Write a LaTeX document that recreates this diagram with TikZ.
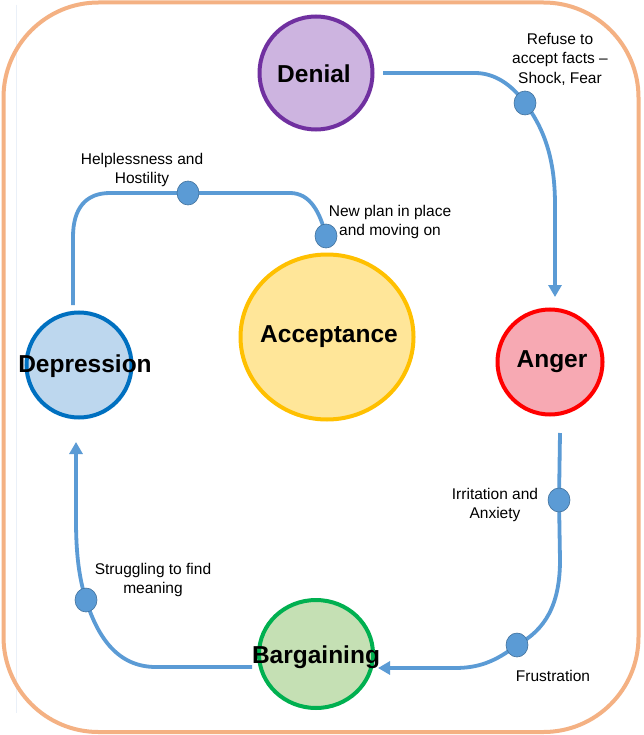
\documentclass[tikz,border=0pt]{standalone}
\usepackage{fontspec}
\setmainfont{Liberation Sans}
\usetikzlibrary{shapes.geometric,arrows.meta}
\definecolor{frameorange}{HTML}{F4B183}
\definecolor{linkblue}{HTML}{5B9BD5}
\definecolor{dotedge}{HTML}{41719C}
\definecolor{denialfill}{HTML}{CDB4E0}
\definecolor{denialedge}{HTML}{7030A0}
\definecolor{acceptfill}{HTML}{FFE699}
\definecolor{acceptedge}{HTML}{FFC000}
\definecolor{angerfill}{HTML}{F7A9B3}
\definecolor{angeredge}{HTML}{FF0000}
\definecolor{deprfill}{HTML}{BDD7EE}
\definecolor{dempredge}{HTML}{0070C0}
\definecolor{bargfill}{HTML}{C5E0B4}
\definecolor{bargedge}{HTML}{00B050}
\definecolor{faintline}{HTML}{EAF0F8}
\tikzset{
  stage/.style={circle, line width=4pt, inner sep=0pt},
  stagetext/.style={font=\fontsize{24.5}{28}\selectfont\bfseries, text=black},
  conn/.style={draw=linkblue, line width=3.8pt},
  arr/.style={-{Triangle[length=12pt,width=13pt]}},
  blob/.style={ellipse, fill=linkblue, draw=dotedge, line width=0.6pt, minimum width=22pt, minimum height=24pt, inner sep=0pt},
  note/.style={font=\fontsize{15.5}{19.5}\selectfont, align=center, text=black},
}
\begin{document}
\begin{tikzpicture}[x=1pt,y=-1pt]
\useasboundingbox (0,0) rectangle (643,735);
\fill[white] (0,0) rectangle (643,735);
% faint guide line
\draw[faintline, line width=0.8pt] (16,5) -- (16,713);
% outer frame
\draw[frameorange, line width=4pt, rounded corners=95pt] (3.5,2.5) rectangle (638.5,732);

% stages
\node[stage, fill=denialfill, draw=denialedge, minimum size=113pt,
  label={[stagetext, xshift=-2pt, yshift=-1pt]center:Denial}] (denial) at (316,73) {};
\node[ellipse, line width=4pt, inner sep=0pt, fill=acceptfill, draw=acceptedge,
  minimum width=173pt, minimum height=165pt,
  label={[stagetext, xshift=2pt]center:Acceptance}] (accept) at (327,337) {};
\node[stage, fill=angerfill, draw=angeredge, minimum size=105pt,
  label={[stagetext, xshift=2pt]center:Anger}] (anger) at (550,362) {};
\node[stage, fill=deprfill, draw=dempredge, minimum size=105pt,
  label={[stagetext, xshift=6pt, yshift=-1pt]center:Depression}] (depr) at (79,365) {};
\node[ellipse, line width=4pt, inner sep=0pt, fill=bargfill, draw=bargedge,
  minimum width=114pt, minimum height=108pt,
  label={[stagetext, yshift=-3pt]center:Bargaining}] (barg) at (316,654) {};

% connector end points
\coordinate (a1) at (383,73);
\coordinate (a2) at (555,297);
\coordinate (b1) at (560,433);
\coordinate (b2) at (378,668);
\coordinate (c1) at (252,667);
\coordinate (c2) at (76,442);
\coordinate (e1) at (73,305);

% dots (positions)
\coordinate (p1) at (525,103);
\coordinate (p2) at (326,236);
\coordinate (p3) at (188,193);
\coordinate (p4) at (559,500);
\coordinate (p5) at (517,645);
\coordinate (p6) at (86,600);

% connectors
\draw[conn, arr] (a1) -- (475,73) .. controls (495,73) and (512,85) .. (p1)
  .. controls (545,130) and (555,160) .. (555,205) -- (a2);
\draw[conn, arr] (b1) -- (p4) -- (560,560) .. controls (560,605) and (545,630) .. (p5)
  .. controls (495,662) and (478,668) .. (455,668) -- (b2);
\draw[conn, arr] (c1) -- (156,667) .. controls (118,667) and (98,638) .. (p6)
  .. controls (78,575) and (76,548) .. (76,520) -- (c2);
\draw[conn] (e1) -- (73,237) .. controls (73,208) and (86,193) .. (110,193) -- (p3)
  -- (290,193) .. controls (310,193) and (320,212) .. (p2);

% dots
\node[blob] (d1) at (p1) {};
\node[blob] (d2) at (p2) {};
\node[blob] (d3) at (p3) {};
\node[blob] (d4) at (p4) {};
\node[blob] (d5) at (p5) {};
\node[blob] (d6) at (p6) {};

% notes
\node[note] (n1) at (560,59) {Refuse to\\accept facts –\\Shock, Fear};
\node[note] (n2) at (390,222) {New plan in place\\and moving on};
\node[note] (n3) at (142,170) {Helplessness and\\Hostility};
\node[note] (n4) at (495,505) {Irritation and\\Anxiety};
\node[note] (n5) at (553,676) {Frustration};
\node[note] (n6) at (153,580) {Struggling to find\\meaning};
\end{tikzpicture}
\end{document}
